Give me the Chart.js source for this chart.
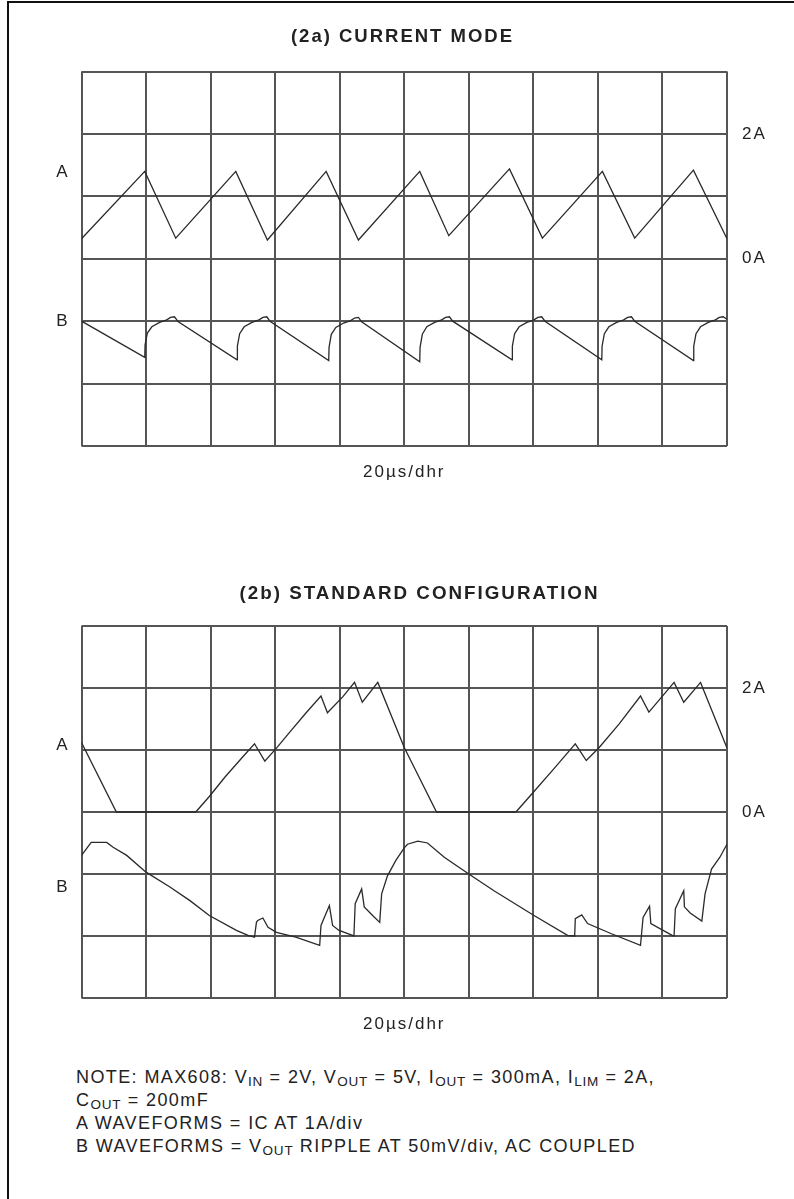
<!DOCTYPE html>
<html>
<head>
<meta charset="utf-8">
<script src="https://cdn.jsdelivr.net/npm/chart.js@4.4.1/dist/chart.umd.min.js"></script>
<style>
  html, body { margin: 0; padding: 0; background: #fff; }
  body { width: 794px; height: 1199px; position: relative; overflow: hidden;
         font-family: 'Liberation Sans', Arial, sans-serif; }
  #frame { position: absolute; left: 7px; top: 1px; right: -4px; bottom: -4px;
           border-top: 2px solid #111; border-left: 2px solid #111; }
  canvas { position: absolute; left: 0; }
  #c1 { top: 0; }
  #c2 { top: 500px; }
  #note { position: absolute; left: 76px; top: 1066px; font-size: 18px; line-height: 23px;
          color: #222; letter-spacing: 1.4px; white-space: nowrap; }
  #note sub { font-size: 13.5px; vertical-align: -3px; line-height: 0; letter-spacing: 0.8px; }
</style>
</head>
<body>
<div id="frame"></div>
<canvas id="c1" width="794" height="500"></canvas>
<canvas id="c2" width="794" height="560"></canvas>
<div id="note">
  NOTE: MAX608: V<sub>IN</sub> = 2V, V<sub>OUT</sub> = 5V, I<sub>OUT</sub> = 300mA, I<sub>LIM</sub> = 2A,<br>
  C<sub>OUT</sub> = 200mF<br>
  A WAVEFORMS = IC AT 1A/div<br>
  B WAVEFORMS = V<sub>OUT</sub> RIPPLE AT 50mV/div, AC COUPLED
</div>
<script>
// screen is 10 x 6 divisions, y counted from the bottom line
const rightLabelAt = [3, 5];
const rightLabelText = ['0A', '2A'];
const leftText = ['A', 'B'];

// (2a) current mode
const topLeftAt = [4.38, 2.0];
const topAx = [0, 0.98, 1.46, 2.39, 2.88, 3.79, 4.29, 5.24, 5.69, 6.63, 7.14, 8.07, 8.57, 9.48, 10];
const topAy = [3.32, 4.40, 3.33, 4.40, 3.30, 4.40, 3.30, 4.40, 3.37, 4.44, 3.33, 4.40, 3.33, 4.42, 3.32];
const topBx = [0, 0.98, 0.985, 1.02, 1.09, 1.21, 1.32, 1.38, 1.44, 1.50,
  2.41, 2.415, 2.45, 2.52, 2.64, 2.75, 2.81, 2.87, 2.92,
  3.83, 3.835, 3.87, 3.94, 4.06, 4.17, 4.23, 4.29, 4.34,
  5.24, 5.245, 5.28, 5.35, 5.47, 5.58, 5.64, 5.70, 5.75,
  6.67, 6.675, 6.71, 6.78, 6.90, 7.01, 7.07, 7.13, 7.18,
  8.06, 8.065, 8.10, 8.17, 8.29, 8.40, 8.46, 8.52, 8.57,
  9.48, 9.485, 9.52, 9.59, 9.71, 9.82, 9.88, 9.94, 10];
const topBy = [2.00, 1.42, 1.62, 1.81, 1.91, 1.98, 2.02, 2.06, 2.07, 1.99,
  1.38, 1.60, 1.80, 1.91, 1.98, 2.02, 2.06, 2.07, 2.00,
  1.37, 1.58, 1.79, 1.90, 1.97, 2.01, 2.05, 2.06, 1.99,
  1.35, 1.58, 1.79, 1.91, 1.98, 2.02, 2.06, 2.07, 2.00,
  1.38, 1.60, 1.80, 1.91, 1.98, 2.02, 2.06, 2.07, 2.00,
  1.38, 1.60, 1.80, 1.91, 1.98, 2.02, 2.06, 2.07, 2.00,
  1.37, 1.60, 1.80, 1.91, 1.98, 2.02, 2.06, 2.07, 2.03];

// (2b) standard configuration
const botLeftAt = [4.08, 1.79];
const botAx = [0, 0.54, 1.77, 1.98, 2.22, 2.50, 2.68, 2.84, 3.02, 3.22, 3.48, 3.71, 3.81, 4.05, 4.23, 4.35, 4.59,
  5.0, 5.5, 6.73, 7.01, 7.32, 7.65, 7.82, 8.02, 8.33, 8.66, 8.79, 9.18, 9.33, 9.59, 10];
const botAy = [4.12, 3.0, 3.0, 3.25, 3.56, 3.89, 4.10, 3.82, 4.03, 4.28, 4.60, 4.87, 4.60, 4.86, 5.09, 4.77, 5.09,
  4.04, 3.0, 3.0, 3.33, 3.70, 4.10, 3.83, 4.04, 4.42, 4.87, 4.61, 5.09, 4.77, 5.09, 4.03];
const botBx = [0, 0.15, 0.39, 0.49, 0.70, 1.0, 1.37, 1.68, 1.98, 2.40, 2.58, 2.68,
  2.71, 2.73, 2.81, 2.89, 3.02, 3.32, 3.69,
  3.71, 3.84, 3.89, 3.99, 4.20, 4.22,
  4.24, 4.34, 4.38, 4.51, 4.62, 4.65, 4.74, 4.87, 5.0,
  5.05, 5.21, 5.36, 5.62, 6.0, 6.39, 7.01, 7.53, 7.64,
  7.65, 7.75, 7.84, 8.2, 8.66,
  8.70, 8.80, 8.82, 9.15, 9.18,
  9.2, 9.33, 9.34, 9.43, 9.61, 9.66, 9.76, 9.89, 10];
const botBy = [2.30, 2.51, 2.51, 2.43, 2.30, 2.03, 1.79, 1.57, 1.33, 1.09, 1.01, 0.98,
  1.22, 1.25, 1.29, 1.14, 1.06, 0.98, 0.85,
  1.17, 1.49, 1.17, 1.09, 1.01, 1.00,
  1.52, 1.76, 1.47, 1.33, 1.22, 1.68, 1.97, 2.22, 2.42,
  2.48, 2.53, 2.50, 2.27, 2.00, 1.73, 1.33, 1.01, 1.00,
  1.28, 1.34, 1.20, 1.04, 0.85,
  1.30, 1.48, 1.20, 1.01, 1.00,
  1.44, 1.73, 1.47, 1.37, 1.24, 1.68, 2.08, 2.27, 2.48];

const FONT = 'Liberation Sans';
const INK = '#222';
const GRID = '#555';

const tracking = {
  id: 'tracking',
  beforeDraw(chart) { chart.ctx.letterSpacing = '2px'; }
};

function trace(xs, ys) {
  return {
    data: xs.map((x, i) => ({ x: x, y: ys[i] })),
    borderColor: '#2a2a2a', borderWidth: 1.3,
    pointRadius: 0, tension: 0, fill: false,
    xAxisID: 'x', yAxisID: 'y'
  };
}

function plotScope(elementID, title, traces, leftAt, box) {
  const ctx = document.getElementById(elementID);
  return new Chart(ctx, {
    type: 'line',
    data: { datasets: traces },
    plugins: [tracking],
    options: {
      responsive: false,
      animation: false,
      events: [],
      layout: { padding: { left: box.padLeft, right: 0, top: 0, bottom: 0 } },
      plugins: {
        legend: { display: false },
        tooltip: { enabled: false },
        title: {
          display: true, text: title, color: INK,
          font: { family: FONT, size: box.titleSize, weight: 'bold' },
          padding: { top: box.titleTop, bottom: box.titleBottom }
        }
      },
      scales: {
        x: {
          type: 'linear', min: 0, max: 10,
          ticks: { stepSize: 1, display: false },
          grid: { color: GRID, lineWidth: 2, drawTicks: false },
          border: { display: false },
          title: {
            display: true, text: '20\u00b5s/dhr', color: INK,
            font: { family: FONT, size: 17 },
            padding: { top: 0, bottom: box.unitBottom }
          },
          afterFit: s => { s.height = box.xHeight; }
        },
        yl: {
          position: 'left', min: 0, max: 6,
          grid: { display: false },
          border: { display: false },
          afterBuildTicks: s => { s.ticks = leftAt.map(v => ({ value: v })); },
          ticks: { padding: 4, color: INK, font: { family: FONT, size: 17 },
                   callback: (v, i) => leftText[i] },
          afterFit: s => { s.width = 81.5 - box.padLeft; }
        },
        y: {
          position: 'right', min: 0, max: 6,
          grid: { color: GRID, lineWidth: 2, drawTicks: false },
          border: { display: false },
          ticks: { stepSize: 1, padding: 15, color: INK, font: { family: FONT, size: 17 },
                   callback: v => { const k = rightLabelAt.indexOf(v); return k < 0 ? '' : rightLabelText[k]; } },
          afterFit: s => { s.width = 67; }
        }
      }
    }
  });
}

plotScope('c1', '(2a) CURRENT MODE', [trace(topAx, topAy), trace(topBx, topBy)], topLeftAt,
  { padLeft: 11, titleSize: 18.5, titleTop: 26.0, titleBottom: 23.3, xHeight: 54, unitBottom: 17.8 });
plotScope('c2', '(2b) STANDARD CONFIGURATION', [trace(botAx, botAy), trace(botBx, botBy)], botLeftAt,
  { padLeft: 45, titleSize: 18.8, titleTop: 82.8, titleBottom: 20.6, xHeight: 62, unitBottom: 25.8 });
</script>
</body>
</html>
